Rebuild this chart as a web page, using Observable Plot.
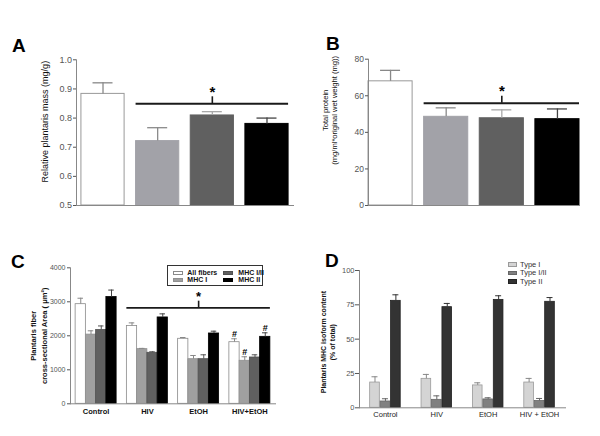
<!DOCTYPE html>
<html><head><meta charset="utf-8">
<script src="https://cdn.jsdelivr.net/npm/d3@7"></script>
<script src="https://cdn.jsdelivr.net/npm/@observablehq/plot@0.6"></script>
<style>
body{margin:0;background:#fff;}
#wrap{position:relative;width:600px;height:436px;overflow:hidden;background:#fff;font-family:"Liberation Sans",Arial,Helvetica,sans-serif;}
.letter{position:absolute;font-weight:bold;font-size:19px;line-height:19px;color:#000;}
.lg{position:absolute;white-space:nowrap;}
.sw{position:absolute;box-sizing:border-box;}
</style></head><body><div id="wrap"></div>
<script>
// ---------- data ----------
const groups = ["Control", "HIV", "EtOH", "HIV+EtOH"];
const groupLabelsD = ["Control", "HIV", "EtOH", "HIV + EtOH"];

// Panel A: relative plantaris mass (mg/g)
const massMean = [0.883, 0.721, 0.809, 0.780];
const massSem = [0.038, 0.046, 0.013, 0.020];
const massSig = 0.849;
const massTicks = [0.5, 0.6, 0.7, 0.8, 0.9, 1.0];

// Panel B: total protein
const proteinMean = [67.9, 48.5, 47.7, 47.2];
const proteinSem = [6.0, 4.9, 4.6, 5.6];
const proteinSig = 55.9;
const proteinTicks = [0, 20, 40, 60, 80];

// Panel C: fiber cross-sectional area
const fiberSeries = ["All fibers", "MHC I", "MHC I/II", "MHC II"];
const csaAll = [2930, 2290, 1912, 1812];
const csaAllSem = [175, 90, 38, 100];
const csaI = [2035, 1608, 1312, 1265];
const csaISem = [112, 22, 109, 118];
const csaIII = [2170, 1500, 1312, 1362];
const csaIIISem = [120, 30, 129, 79];
const csaII = [3140, 2540, 2068, 1970];
const csaIISem = [205, 105, 68, 118];
const csaSig = 2824;
const csaTicks = [0, 1000, 2000, 3000, 4000];
const csaHash = [["HIV+EtOH", "All fibers"], ["HIV+EtOH", "MHC I"], ["HIV+EtOH", "MHC II"]];

// Panel D: MHC isoform content (% of total)
const isoSeries = ["Type I", "Type I/II", "Type II"];
const isoI = [18.4, 21.1, 16.3, 18.4];
const isoISem = [4.2, 3.2, 1.9, 3.0];
const isoIII = [4.6, 5.8, 6.1, 4.9];
const isoIIISem = [2.0, 2.9, 1.2, 1.9];
const isoII = [77.9, 73.3, 78.6, 77.2];
const isoIISem = [4.4, 2.7, 3.0, 3.1];
const isoTicks = [0, 25, 50, 75, 100];

// ---------- styles ----------
const FONT = '"Liberation Sans", Arial, Helvetica, sans-serif';
const simpleFill = ["#ffffff", "#a2a2a8", "#606060", "#000000"];
const simpleStroke = ["#999999", "#a2a2a8", "#606060", "#000000"];
const simpleErr = ["#888888", "#8a8a8a", "#a8a8a8", "#444444"];
const csaFill = ["#ffffff", "#a0a0a0", "#606060", "#000000"];
const csaStroke = ["#8a8a8a", "#909090", "#505050", "#000000"];
const csaErr = ["#888888", "#888888", "#555555", "#444444"];
const isoFill = ["#d4d4d4", "#808080", "#333333"];
const isoStroke = ["#9a9a9a", "#666666", "#222222"];
const isoErr = ["#888888", "#666666", "#333333"];

const W = 300, H = 218;
const wrap = document.getElementById("wrap");

function bandGeom(n, start, stop, pi, po) {
  const step = (stop - start) / Math.max(1, n - pi + po * 2);
  return {step, bw: step * (1 - pi)};
}
function place(el, left, top) {
  el.style.position = "absolute";
  el.style.left = left + "px";
  el.style.top = top + "px";
  wrap.appendChild(el);
}
function sigMarks(sig, opts) {
  const rows = [{y: sig, from: groups[1], mid: groups[2], to: groups[3]}];
  return [
    Plot.ruleY(rows, {y: "y", x1: "from", x2: "to", stroke: "#1a1a1a", strokeWidth: opts.lw}),
    Plot.ruleX(rows, {x: "mid", y1: "y", y2: "y", insetTop: -opts.tick, stroke: "#1a1a1a", strokeWidth: 1.6}),
    Plot.text(rows, {x: "mid", y: "y", text: () => "*", lineAnchor: "middle", dy: opts.starDy, fontSize: opts.starSize, fontWeight: "bold", fill: "#000"})
  ];
}
function ylabel(text, o) {
  return Plot.text([text], {frameAnchor: "left", text: d => d, rotate: -90, textAnchor: "middle", lineAnchor: "middle",
    dx: o.dx, dy: o.dy, fontSize: o.size, fontWeight: o.weight, fill: "#111", lineHeight: o.lh || 1.1});
}

// ---------- simple panels (A, B) ----------
function simplePanel(c) {
  const rows = groups.map((g, i) => ({g, i, v: c.mean[i], e: c.mean[i] + c.sem[i]}));
  const {bw} = bandGeom(groups.length, c.ml, W - c.mr, c.pi, c.po);
  const inset = (bw - c.capW) / 2;
  return Plot.plot({
    width: W, height: H, marginTop: c.mt, marginBottom: c.mb, marginLeft: c.ml, marginRight: c.mr,
    style: {fontFamily: FONT, background: "transparent", overflow: "visible", color: "#555"},
    x: {domain: groups, paddingInner: c.pi, paddingOuter: c.po, round: false, axis: null},
    y: {domain: c.domain},
    marks: [
      Plot.barY(rows, {x: "g", y1: c.domain[0], y2: "v", fill: d => simpleFill[d.i], stroke: d => simpleStroke[d.i], strokeWidth: 1}),
      Plot.ruleX(rows, {x: "g", y1: "v", y2: "e", stroke: d => simpleErr[d.i], strokeWidth: 1.3}),
      Plot.tickY(rows, {x: "g", y: "e", insetLeft: inset, insetRight: inset, stroke: d => simpleErr[d.i], strokeWidth: 1.3}),
      Plot.frame({anchor: "left", stroke: "#888"}),
      Plot.frame({anchor: "bottom", stroke: "#888"}),
      Plot.axisY({ticks: c.ticks, tickFormat: c.fmt, tickSize: 3, tickPadding: 1.5, fontSize: c.tickFont, label: null, color: "#555"}),
      ...sigMarks(c.sig, {lw: 2, tick: 7, starDy: -12, starSize: 15}),
      ylabel(c.label, c.lab)
    ]
  });
}

const plotA = simplePanel({
  mean: massMean, sem: massSem, sig: massSig, ticks: massTicks, fmt: d3.format(".1f"), domain: [0.5, 1.0],
  mt: 59.3, mb: 13, ml: 76, mr: 7, pi: 0.21, po: 0.09, capW: 20, tickFont: 9,
  label: "Relative plantaris mass (mg/g)", lab: {dx: -32, dy: -11, size: 9, weight: "normal"}
});
place(plotA, 0, 0);

const plotB = simplePanel({
  mean: proteinMean, sem: proteinSem, sig: proteinSig, ticks: proteinTicks, fmt: d3.format("d"), domain: [0, 80],
  mt: 58.7, mb: 13, ml: 68, mr: 21, pi: 0.207, po: 0, capW: 20, tickFont: 8.5,
  label: "Total protein\n(mg/ml*original wet weight (mg))", lab: {dx: -39, dy: -22, size: 7.6, weight: "normal", lh: 1.15}
});
place(plotB, 300, 0);

// ---------- panel C (grouped) ----------
(function () {
  const means = [csaAll, csaI, csaIII, csaII];
  const sems = [csaAllSem, csaISem, csaIIISem, csaIISem];
  const n = fiberSeries.length;
  const ml = 70, mr = 25, mt = 49.3, mb = 32.7, pi = 0.2, po = 0.1;
  const {bw} = bandGeom(groups.length, ml, W - mr, pi, po);
  const w = bw / n, capW = 5.5;
  const marks = [];
  fiberSeries.forEach((s, k) => {
    const rows = groups.map((g, i) => ({g, v: means[k][i], e: means[k][i] + sems[k][i]}));
    marks.push(Plot.barY(rows, {x: "g", y1: 0, y2: "v", insetLeft: k * w, insetRight: (n - 1 - k) * w, fill: csaFill[k], stroke: csaStroke[k], strokeWidth: 0.8}));
    marks.push(Plot.ruleX(rows, {x: "g", y1: "v", y2: "e", dx: (k + 0.5) * w - bw / 2, stroke: csaErr[k], strokeWidth: 1}));
    marks.push(Plot.tickY(rows, {x: "g", y: "e", insetLeft: k * w + (w - capW) / 2, insetRight: (n - 1 - k) * w + (w - capW) / 2, stroke: csaErr[k], strokeWidth: 1}));
  });
  csaHash.forEach(([g, s]) => {
    const k = fiberSeries.indexOf(s), i = groups.indexOf(g);
    marks.push(Plot.text([{g, e: means[k][i] + sems[k][i]}], {x: "g", y: "e", text: () => "#", dx: (k + 0.5) * w - bw / 2, dy: -4.5, lineAnchor: "middle", fontSize: 9, fontWeight: "bold", fill: "#000"}));
  });
  const plot = Plot.plot({
    width: W, height: H, marginTop: mt, marginBottom: mb, marginLeft: ml, marginRight: mr,
    style: {fontFamily: FONT, background: "transparent", overflow: "visible", color: "#555"},
    x: {domain: groups, paddingInner: pi, paddingOuter: po, round: false},
    y: {domain: [0, 4000]},
    marks: [
      ...marks,
      Plot.frame({anchor: "left", stroke: "#888"}),
      Plot.frame({anchor: "bottom", stroke: "#888"}),
      Plot.axisY({ticks: csaTicks, tickFormat: d3.format("d"), tickSize: 3, tickPadding: 2, fontSize: 7, label: null, color: "#555"}),
      Plot.axisX({tickSize: 0, tickPadding: 5, fontSize: 7.5, fontWeight: "bold", label: null, color: "#111"}),
      ...sigMarks(csaSig, {lw: 1.7, tick: 6.6, starDy: -11, starSize: 13}),
      ylabel("Plantaris fiber\ncross-sectional Area ( \u03bcm\u00b2)", {dx: -32.5, dy: 0, size: 7.5, weight: "bold", lh: 1.45})
    ]
  });
  place(plot, 0, 218);
  // legend
  const box = document.createElement("div");
  box.style.cssText = "position:absolute;left:167px;top:265px;width:96px;height:21px;border:1.2px solid #333;box-sizing:border-box;background:#fff;";
  wrap.appendChild(box);
  fiberSeries.forEach((s, k) => {
    const col = Math.floor(k / 2), row = k % 2;
    const cy = 272.7 + row * 7.4;
    const sx = col ? 223.3 : 173.3, tx = col ? 238.3 : 187.3;
    const sw = document.createElement("div");
    sw.className = "sw";
    sw.style.cssText += `left:${sx}px;top:${cy - 2.2}px;width:9.4px;height:4.4px;background:${csaFill[k]};border:0.8px solid ${csaStroke[k]};`;
    wrap.appendChild(sw);
    const t = document.createElement("div");
    t.className = "lg";
    t.textContent = s;
    t.style.cssText += `left:${tx}px;top:${cy - 5}px;line-height:10px;font-size:7px;font-weight:bold;color:#111;`;
    wrap.appendChild(t);
  });
})();

// ---------- panel D (grouped) ----------
(function () {
  const means = [isoI, isoIII, isoII];
  const sems = [isoISem, isoIIISem, isoIISem];
  const n = isoSeries.length;
  const ml = 59, mr = 35, mt = 52, mb = 28.7, pi = 0.39, po = 0.2;
  const {bw} = bandGeom(groups.length, ml, W - mr, pi, po);
  const w = bw / n, capW = 6;
  const marks = [];
  isoSeries.forEach((s, k) => {
    const rows = groups.map((g, i) => ({g, v: means[k][i], e: means[k][i] + sems[k][i]}));
    marks.push(Plot.barY(rows, {x: "g", y1: 0, y2: "v", insetLeft: k * w + 0.4, insetRight: (n - 1 - k) * w + 0.4, fill: isoFill[k], stroke: isoStroke[k], strokeWidth: 0.8}));
    marks.push(Plot.ruleX(rows, {x: "g", y1: "v", y2: "e", dx: (k + 0.5) * w - bw / 2, stroke: isoErr[k], strokeWidth: 1}));
    marks.push(Plot.tickY(rows, {x: "g", y: "e", insetLeft: k * w + (w - capW) / 2, insetRight: (n - 1 - k) * w + (w - capW) / 2, stroke: isoErr[k], strokeWidth: 1}));
  });
  const plot = Plot.plot({
    width: W, height: H, marginTop: mt, marginBottom: mb, marginLeft: ml, marginRight: mr,
    style: {fontFamily: FONT, background: "transparent", overflow: "visible", color: "#555"},
    x: {domain: groups, paddingInner: pi, paddingOuter: po, round: false},
    y: {domain: [0, 100]},
    marks: [
      ...marks,
      Plot.frame({anchor: "left", stroke: "#888"}),
      Plot.frame({anchor: "bottom", stroke: "#888"}),
      Plot.axisY({ticks: isoTicks, tickSize: 4, tickPadding: 1, fontSize: 7.5, label: null, color: "#555"}),
      Plot.axisX({tickSize: 0, tickPadding: 3.5, fontSize: 7.5, label: null, color: "#222", tickFormat: d => groupLabelsD[groups.indexOf(d)]}),
      ylabel("Plantaris MHC isoform content\n(% of total)", {dx: -31.5, dy: 3, size: 7, weight: "bold", lh: 1.25})
    ]
  });
  place(plot, 300, 218);
  isoSeries.forEach((s, k) => {
    const cy = 264.5 + k * 8.5;
    const sw = document.createElement("div");
    sw.className = "sw";
    sw.style.cssText += `left:508px;top:${cy - 2.2}px;width:9px;height:4.4px;background:${isoFill[k]};border:0.8px solid ${isoStroke[k]};`;
    wrap.appendChild(sw);
    const t = document.createElement("div");
    t.className = "lg";
    t.textContent = s;
    t.style.cssText += `left:520px;top:${cy - 5}px;line-height:10px;font-size:7.5px;color:#333;`;
    wrap.appendChild(t);
  });
})();

// ---------- panel letters ----------
[["A", 12, 36], ["B", 326, 34], ["C", 11, 252], ["D", 325, 251]].forEach(([l, x, y]) => {
  const d = document.createElement("div");
  d.className = "letter";
  d.textContent = l;
  d.style.left = x + "px";
  d.style.top = y + "px";
  wrap.appendChild(d);
});
</script>
</body></html>
